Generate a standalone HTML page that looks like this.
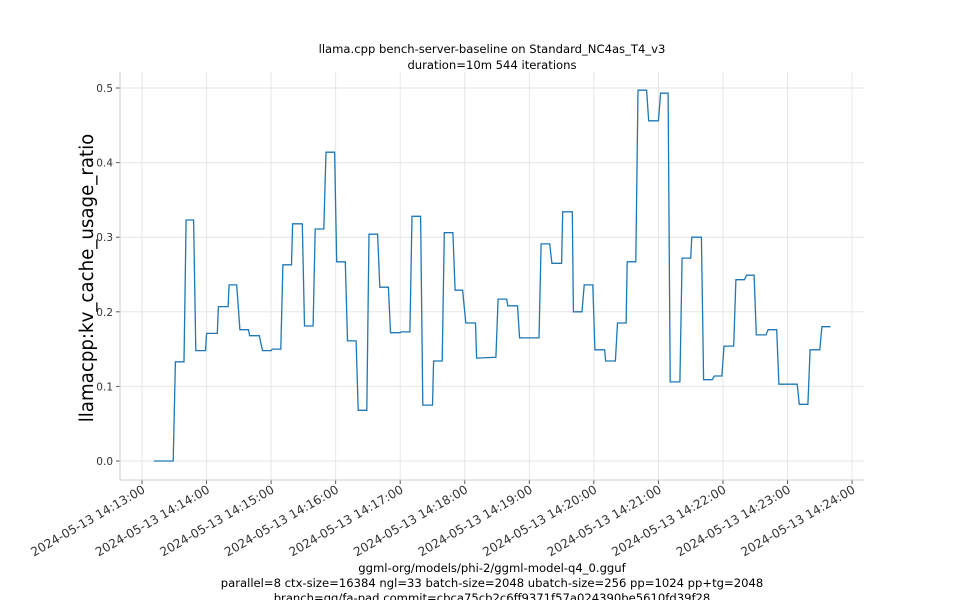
<!DOCTYPE html>
<html><head><meta charset="utf-8"><style>
html,body{margin:0;padding:0;background:#fff;}
svg{display:block;font-family:"DejaVu Sans","Liberation Sans",sans-serif;}
</style></head><body>
<svg id="chart" width="960" height="600" viewBox="0 0 960 600">
<text x="492" y="53" font-size="11.6" text-anchor="middle" fill="#000">llama.cpp bench-server-baseline on Standard_NC4as_T4_v3</text>
<text x="492" y="69" font-size="11.6" text-anchor="middle" fill="#000">duration=10m 544 iterations</text>
<text transform="translate(93,278) rotate(-90)" font-size="18.2" text-anchor="middle" fill="#000">llamacpp:kv_cache_usage_ratio</text>
<g id="grid"></g>
<g id="axes"></g>
<g id="series"></g>
<text x="492" y="572" font-size="11.6" text-anchor="middle" fill="#000">ggml-org/models/phi-2/ggml-model-q4_0.gguf</text>
<text x="492" y="587" font-size="11.6" text-anchor="middle" fill="#000">parallel=8 ctx-size=16384 ngl=33 batch-size=2048 ubatch-size=256 pp=1024 pp+tg=2048</text>
<text x="492" y="602" font-size="11.6" text-anchor="middle" fill="#000">branch=gg/fa-pad commit=cbca75cb2c6ff9371f57a024390be5610fd39f28</text>
</svg>
<script>
// seconds since 14:13:00
const times = [11,29,31,39,41,48,50,59,60,70,71,80,81,88,91,99,100,109,112,120,121,129,131,139,140,149,151,159,161,169,171,179,181,189,191,199,201,209,211,219,221,229,231,240,241,249,251,259,261,270,271,279,281,289,291,298,301,310,311,329,331,339,340,349,351,369,371,379,381,390,391,400,401,409,411,419,421,430,431,440,442,450,451,459,461,469,471,480,482,489,491,500,502,510,511,520,522,530,532,539,541,550,552,560,562,569,571,580,582,590,592,609,611,619,621,630,632,640];
const values = [0,0,.133,.133,.323,.323,.148,.148,.171,.171,.207,.207,.236,.236,.176,.176,.168,.168,.148,.148,.150,.150,.263,.263,.318,.318,.181,.181,.311,.311,.414,.414,.267,.267,.161,.161,.068,.068,.304,.304,.233,.233,.172,.172,.173,.173,.328,.328,.075,.075,.134,.134,.306,.306,.229,.229,.185,.185,.138,.139,.217,.217,.208,.208,.165,.165,.291,.291,.265,.265,.334,.334,.200,.200,.236,.236,.149,.149,.134,.134,.185,.185,.267,.267,.497,.497,.456,.456,.493,.493,.106,.106,.272,.272,.300,.300,.109,.109,.114,.114,.154,.154,.243,.243,.249,.249,.169,.169,.176,.176,.103,.103,.076,.076,.149,.149,.180,.180];
const yTicks = [0,0.1,0.2,0.3,0.4,0.5];
const yTickLabels = ["0.0","0.1","0.2","0.3","0.4","0.5"];
const xTickMinutes = [0,1,2,3,4,5,6,7,8,9,10,11];
const xTickLabels = ["2024-05-13 14:13:00","2024-05-13 14:14:00","2024-05-13 14:15:00","2024-05-13 14:16:00","2024-05-13 14:17:00","2024-05-13 14:18:00","2024-05-13 14:19:00","2024-05-13 14:20:00","2024-05-13 14:21:00","2024-05-13 14:22:00","2024-05-13 14:23:00","2024-05-13 14:24:00"];

const NS="http://www.w3.org/2000/svg";
const X0=142, PXS=64.55/60, Y0=461, PYV=746;
function xs(t){return X0+t*PXS;}
function ys(v){return Y0-v*PYV;}
function mk(tag,attrs,parent){const e=document.createElementNS(NS,tag);for(const k in attrs)e.setAttribute(k,attrs[k]);parent.appendChild(e);return e;}
const grid=document.getElementById('grid'),axes=document.getElementById('axes'),series=document.getElementById('series');
const L=120,R=864,T=72,B=480;
yTicks.forEach((v,i)=>{
  const y=ys(v);
  const g=mk('line',{x1:L,x2:R,y1:y,y2:y,stroke:'#e6e6e6','stroke-width':1},grid);
  
  
  const tk=mk('line',{x1:L-4,x2:L,y1:y,y2:y,stroke:'#555','stroke-width':1},axes);
  
  
  const t=mk('text',{x:L-7,y:y+4,'font-size':10.5,'text-anchor':'end',fill:'#333'},axes);
  t.textContent=yTickLabels[i];
  
  
});
xTickMinutes.forEach((m,i)=>{
  const x=xs(m*60);
  const g=mk('line',{x1:x,x2:x,y1:T,y2:B,stroke:'#e6e6e6','stroke-width':1},grid);
  
  
  const tk=mk('line',{x1:x,x2:x,y1:B,y2:B+4,stroke:'#555','stroke-width':1},axes);
  
  
  const t=mk('text',{transform:`translate(${x+4},${B+12}) rotate(-30)`,'font-size':12.2,'text-anchor':'end',fill:'#333'},axes);
  t.textContent=xTickLabels[i];
  
  
});
const ls=mk('line',{x1:L,x2:L,y1:T,y2:B,stroke:'#ccc','stroke-width':1},axes);


const bs=mk('line',{x1:L,x2:R,y1:B,y2:B,stroke:'#ccc','stroke-width':1},axes);


const pts=times.map((t,i)=>xs(t).toFixed(1)+','+ys(values[i]).toFixed(1)).join(' ');
const pl=mk('polyline',{points:pts,fill:'none',stroke:'#1f77b4','stroke-width':1.3},series);


</script>
</body></html>
